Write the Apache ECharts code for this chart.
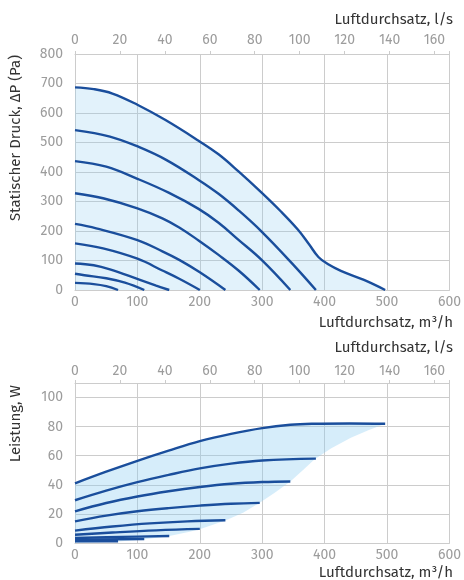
<!DOCTYPE html>
<html>
<head>
<meta charset="utf-8">
<script src="https://cdn.jsdelivr.net/npm/echarts@6/dist/echarts.min.js"></script>
<style>html,body{margin:0;padding:0;background:#fff}#c{width:464px;height:580px}</style>
</head>
<body>
<div id="c"></div>
<script>
// ---------- Data (m³/h, value) ----------
const flowTicksM3h = [0, 100, 200, 300, 400, 500, 600];
const flowTicksLs = [0, 20, 40, 60, 80, 100, 120, 140, 160];
const pressureTicks = [0, 100, 200, 300, 400, 500, 600, 700, 800];
const powerTicks = [0, 20, 40, 60, 80, 100];

// Pressure curves (Pa)
const p1 = [[0,687],[30,681],[60,666],[100,628],[145,576],[198,506],[230,460],[262,402],[299,330],[330,266],[357,205],[375,155],[390,112],[405,88],[426,65],[463,34],[497,0]];
const p2 = [[0,542],[56,520],[103,484],[146,441],[198,373],[230,326],[262,270],[299,198],[347,92],[386,0]];
const p3 = [[0,437],[50,418],[100,377],[150,330],[198,275],[230,228],[262,170],[299,102],[345,0]];
const p4 = [[0,328],[45,311],[100,277],[140,243],[167,212],[198,168],[230,119],[262,66],[296,0]];
const p5 = [[0,224],[34,209],[100,169],[140,131],[167,102],[200,60],[241,0]];
const p6 = [[0,158],[45,141],[100,106],[140,66],[167,38],[200,0]];
const p7 = [[0,90],[30,84],[56,70],[103,35],[130,15],[151,0]];
const p8 = [[0,55],[15,50],[50,40],[80,25],[111,0]];
const p9 = [[0,24],[30,20],[50,13],[69,0]];

// Power curves (W)
const w1 = [[0,41],[50,49],[100,56.5],[150,63.5],[200,70],[250,75],[300,79],[345,81.3],[381,82],[440,82.2],[497,82]];
const w2 = [[0,29.4],[50,36],[100,41.8],[150,46.8],[200,51.3],[250,54.6],[300,56.7],[386,58]];
const w3 = [[0,21.8],[50,27.5],[100,32],[150,35.6],[200,38.5],[250,40.7],[300,41.9],[345,42.3]];
const w4 = [[0,14.9],[50,18.8],[100,21.8],[150,24],[200,25.7],[250,27],[296,27.6]];
const w5 = [[0,8.5],[60,11.3],[120,13.5],[180,14.9],[241,15.6]];
const w6 = [[0,5.7],[60,7.2],[130,8.7],[200,9.7]];
const w7 = [[0,3.4],[75,4.2],[151,4.8]];
const w8 = [[0,2.3],[111,2.8]];
const w9 = [[0,1.2],[69,1.2]];

// Lower boundary of the power operating range (upper boundary is w1)
const bandLower = [[0,0],[40,0.5],[70,1],[112,2.5],[151,4.8],[182,7.5],[201,9.7],[242,15.6],[270,21],[296,27.6],[320,34.5],[345,42.3],[365,50],[384,57.5],[410,65],[442,72.4],[470,77.5],[497,82]];

// ---------- Styles ----------
const LINE = '#1a4e9c';
const FILL = 'rgba(140,205,240,0.36)';
const GRID = '#cccccc';
const LABEL = '#9c9c9c';
const FONT = "'Fira Sans','Noto Sans',sans-serif";

const chart = echarts.init(document.getElementById('c'), null, {renderer: 'canvas'});

function curveSeries(data, xi, yi, extra) {
  return Object.assign({
    type: 'line', xAxisIndex: xi, yAxisIndex: yi, data: data,
    smooth: 0.4, symbol: 'none', silent: true,
    lineStyle: {color: LINE, width: 2.4}, z: 3
  }, extra || {});
}

const m3hAxis = (gi) => ({
  type: 'value', gridIndex: gi, position: 'bottom', min: 0, max: 600, interval: 100,
  axisLine: {show: true, lineStyle: {color: GRID}}, axisTick: {show: false},
  splitLine: {show: true, lineStyle: {color: GRID, width: 1}},
  axisLabel: {color: LABEL, fontSize: 14, fontFamily: FONT, margin: 5}
});
const lsAxis = (gi, margin) => ({
  type: 'value', gridIndex: gi, position: 'top', min: 0, max: 600 / 3.6, interval: 20,
  axisLine: {show: true, lineStyle: {color: GRID}},
  axisTick: {show: true, length: 3, lineStyle: {color: GRID}},
  splitLine: {show: false},
  axisLabel: {color: LABEL, fontSize: 14, fontFamily: FONT, margin: margin,
    formatter: v => (flowTicksLs.indexOf(Math.round(v)) >= 0 && Math.abs(v - Math.round(v)) < 1e-6) ? String(Math.round(v)) : ''}
});

const nameStyle = {fill: '#333', font: '15px ' + FONT};

chart.setOption({
  animation: false,
  backgroundColor: '#fff',
  grid: [
    {left: 75, right: 11, top: 54, height: 236},
    {left: 75, right: 11, top: 383, height: 160}
  ],
  xAxis: [m3hAxis(0), lsAxis(0, 7), m3hAxis(1), lsAxis(1, 5)],
  yAxis: [
    {type: 'value', gridIndex: 0, min: 0, max: 800, interval: 100,
     axisLine: {show: false}, axisTick: {show: false},
     splitLine: {show: true, lineStyle: {color: GRID}},
     axisLabel: {color: LABEL, fontSize: 14, fontFamily: FONT, margin: 12,
       formatter: v => pressureTicks.indexOf(v) >= 0 ? String(v) : ''}},
    {type: 'value', gridIndex: 1, min: 0, max: 110, interval: 20,
     axisLine: {show: false}, axisTick: {show: false},
     splitLine: {show: true, lineStyle: {color: GRID}},
     axisLabel: {color: LABEL, fontSize: 14, fontFamily: FONT, margin: 12,
       formatter: v => powerTicks.indexOf(v) >= 0 ? String(v) : ''}}
  ],
  series: [
    curveSeries(p1, 0, 0, {areaStyle: {color: FILL, origin: 'start'}}),
    curveSeries(p2, 0, 0), curveSeries(p3, 0, 0), curveSeries(p4, 0, 0),
    curveSeries(p5, 0, 0), curveSeries(p6, 0, 0), curveSeries(p7, 0, 0),
    curveSeries(p8, 0, 0), curveSeries(p9, 0, 0),
    // band fill (bottom chart): polygon between w1 and bandLower, placed via axis coords
    {type: 'custom', xAxisIndex: 2, yAxisIndex: 1, silent: true, z: 1,
     data: [[0, 0]],
     renderItem: function (params, api) {
       const pts = w1.map(p => api.coord(p)).concat(bandLower.slice().reverse().map(p => api.coord(p)));
       return {type: 'polygon', shape: {points: pts}, style: {fill: FILL, stroke: null}};
     }},
    curveSeries(w1, 2, 1), curveSeries(w2, 2, 1), curveSeries(w3, 2, 1),
    curveSeries(w4, 2, 1), curveSeries(w5, 2, 1), curveSeries(w6, 2, 1),
    curveSeries(w7, 2, 1), curveSeries(w8, 2, 1), curveSeries(w9, 2, 1)
  ],
  graphic: [
    {type: 'text', x: 453, y: 20, style: Object.assign({text: 'Luftdurchsatz, l/s', align: 'right', verticalAlign: 'middle'}, nameStyle)},
    {type: 'text', x: 453, y: 323, style: Object.assign({text: 'Luftdurchsatz, m³/h', align: 'right', verticalAlign: 'middle'}, nameStyle)},
    {type: 'text', x: 453, y: 348, style: Object.assign({text: 'Luftdurchsatz, l/s', align: 'right', verticalAlign: 'middle'}, nameStyle)},
    {type: 'text', x: 453, y: 573, style: Object.assign({text: 'Luftdurchsatz, m³/h', align: 'right', verticalAlign: 'middle'}, nameStyle)},
    {type: 'text', x: 16, y: 55, rotation: Math.PI / 2, style: Object.assign({text: 'Statischer Druck, ΔP (Pa)', align: 'right', verticalAlign: 'middle'}, nameStyle)},
    {type: 'text', x: 16, y: 385, rotation: Math.PI / 2, style: Object.assign({text: 'Leistung, W', align: 'right', verticalAlign: 'middle'}, nameStyle)}
  ]
});
</script>
</body>
</html>
